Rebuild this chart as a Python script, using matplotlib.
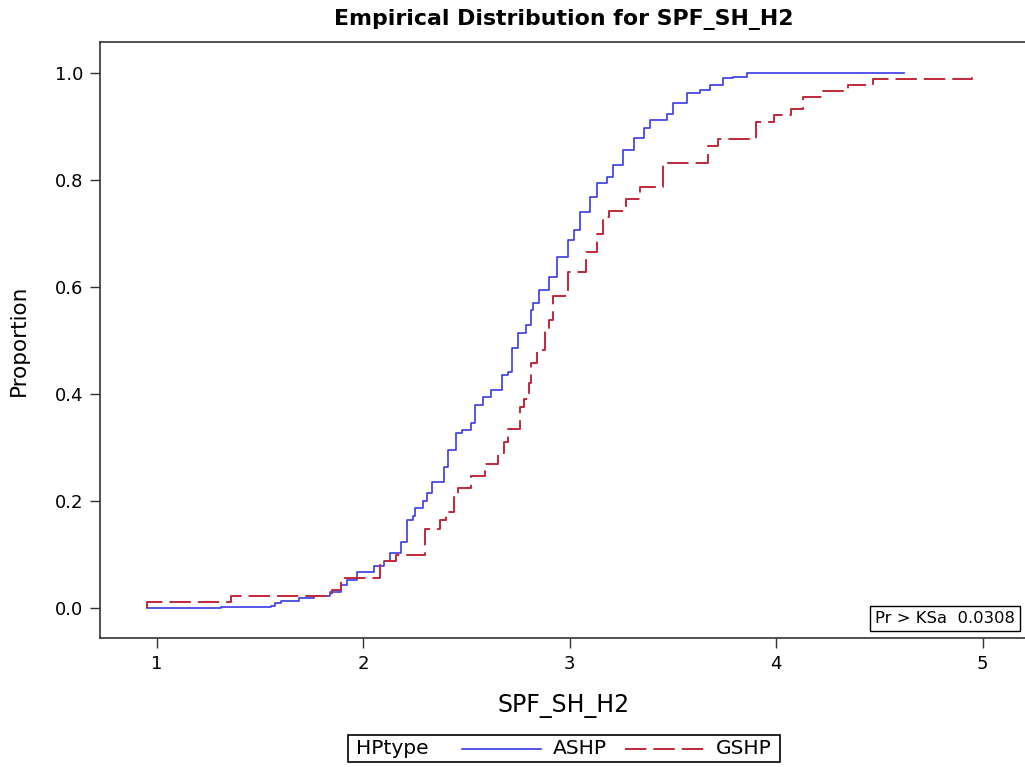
import matplotlib
matplotlib.use("Agg")
import matplotlib.pyplot as plt
from matplotlib.lines import Line2D
from matplotlib.offsetbox import AnchoredOffsetbox, HPacker, TextArea, DrawingArea

plt.rcParams["font.family"] = "DejaVu Sans"

# EDF knots (x value, cumulative proportion)
ashp_x = [0.95, 1.31, 1.55, 1.57, 1.60, 1.69, 1.76, 1.84, 1.89, 1.92, 1.97, 2.05,
          2.10, 2.13, 2.18, 2.21, 2.24, 2.25, 2.29, 2.31, 2.33, 2.39, 2.41, 2.45,
          2.48, 2.52, 2.54, 2.58, 2.62, 2.67, 2.70, 2.72, 2.75, 2.79, 2.81, 2.82,
          2.85, 2.90, 2.94, 2.99, 3.02, 3.05, 3.10, 3.13, 3.18, 3.21, 3.26, 3.31,
          3.36, 3.39, 3.47, 3.50, 3.57, 3.63, 3.68, 3.74, 3.79, 3.86, 4.62]
ashp_y = [0.0, 0.002, 0.004, 0.009, 0.013, 0.019, 0.022, 0.030, 0.043, 0.052, 0.067, 0.079,
          0.088, 0.103, 0.124, 0.164, 0.172, 0.187, 0.200, 0.215, 0.236, 0.263, 0.295, 0.327,
          0.333, 0.346, 0.380, 0.395, 0.407, 0.436, 0.441, 0.486, 0.514, 0.529, 0.557, 0.570,
          0.594, 0.619, 0.656, 0.688, 0.707, 0.740, 0.768, 0.794, 0.806, 0.828, 0.856, 0.879,
          0.897, 0.912, 0.923, 0.944, 0.963, 0.968, 0.978, 0.991, 0.993, 1.0, 1.0]

gshp_x = [0.95, 0.95, 1.36, 1.85, 1.89, 2.08, 2.16, 2.30, 2.37, 2.40, 2.44, 2.46,
          2.52, 2.59, 2.65, 2.68, 2.70, 2.76, 2.78, 2.80, 2.81, 2.84, 2.88, 2.90,
          2.92, 2.99, 3.08, 3.13, 3.16, 3.19, 3.27, 3.34, 3.45, 3.67, 3.72, 3.90,
          3.99, 4.07, 4.13, 4.22, 4.35, 4.47, 4.95]
gshp_y = [0.0, 0.011, 0.022, 0.033, 0.056, 0.088, 0.100, 0.148, 0.165, 0.180, 0.207, 0.224,
          0.247, 0.269, 0.290, 0.310, 0.335, 0.376, 0.390, 0.420, 0.458, 0.482, 0.520, 0.538,
          0.583, 0.628, 0.665, 0.700, 0.730, 0.742, 0.764, 0.787, 0.832, 0.864, 0.877, 0.908,
          0.921, 0.933, 0.955, 0.966, 0.977, 0.989, 1.0]

x_ticks = [1, 2, 3, 4, 5]
y_ticks = [0.0, 0.2, 0.4, 0.6, 0.8, 1.0]
ks_text = "Pr > KSa  0.0308"

blue = "#3a3ae6"
red = "#c0283a"
dark = "#333333"
dash = (0, (11, 3.6))

fig = plt.figure(figsize=(10.25, 7.67), dpi=100)
ax = fig.add_axes([100 / 1025, 129 / 767, 928 / 1025, 596 / 767])

ax.step(ashp_x, ashp_y, where="post", color=blue, linewidth=1.2)
ax.step(gshp_x, gshp_y, where="post", color=red, linewidth=1.4, linestyle=dash)

ax.set_xlim(0.7236, 5.22)
ax.set_ylim(-0.056, 1.058)
ax.set_xticks(x_ticks)
ax.set_xticklabels([str(v) for v in x_ticks])
ax.set_yticks(y_ticks)
ax.set_yticklabels(["%.1f" % v for v in y_ticks])
ax.tick_params(direction="out", length=7, width=1, colors=dark, labelsize=13,
               labelcolor="black", pad=5)
for s in ax.spines.values():
    s.set_color(dark)
    s.set_linewidth(1.2)

ax.set_xlabel("SPF_SH_H2", fontsize=17, labelpad=15)
ax.set_ylabel("Proportion", fontsize=15.5, labelpad=19)
ax.set_title("Empirical Distribution for SPF_SH_H2", fontsize=15.8,
             fontweight="bold", pad=12)

ax.text(0.9862, 0.0205, ks_text, transform=ax.transAxes, ha="right", va="bottom",
        fontsize=11.8,
        bbox=dict(boxstyle="square,pad=0.3", facecolor="white", edgecolor="black",
                  linewidth=1))


# legend laid out in one row, title on the left as in the original
def sample(color, ls, lw):
    da = DrawingArea(57, 10, 0, 0)
    da.add_artist(Line2D([0, 57], [5, 5], color=color, linestyle=ls, linewidth=lw))
    return da


tp = dict(fontsize=14.5)
first = HPacker(children=[
    TextArea("HPtype", textprops=tp),
    HPacker(children=[sample(blue, "-", 1.2), TextArea("ASHP", textprops=tp)],
            sep=8, pad=0, align="center"),
], sep=24, pad=0, align="center")
inner = HPacker(children=[
    first,
    HPacker(children=[sample(red, dash, 1.4), TextArea("GSHP", textprops=tp)],
            sep=8, pad=0, align="center"),
], sep=13.5, pad=0, align="center")
row = HPacker(children=[DrawingArea(3, 10, 0, 0), inner, DrawingArea(3, 10, 0, 0)],
              sep=0, pad=0, align="center")

leg = AnchoredOffsetbox(loc="upper center", child=row, pad=0.3, borderpad=0,
                        frameon=True, bbox_to_anchor=(564 / 1025, 1 - 735 / 767),
                        bbox_transform=fig.transFigure)
leg.patch.set_boxstyle("square", pad=0)
leg.patch.set_edgecolor("black")
leg.patch.set_linewidth(1.2)
fig.add_artist(leg)

fig.savefig("out.png", dpi=100)
